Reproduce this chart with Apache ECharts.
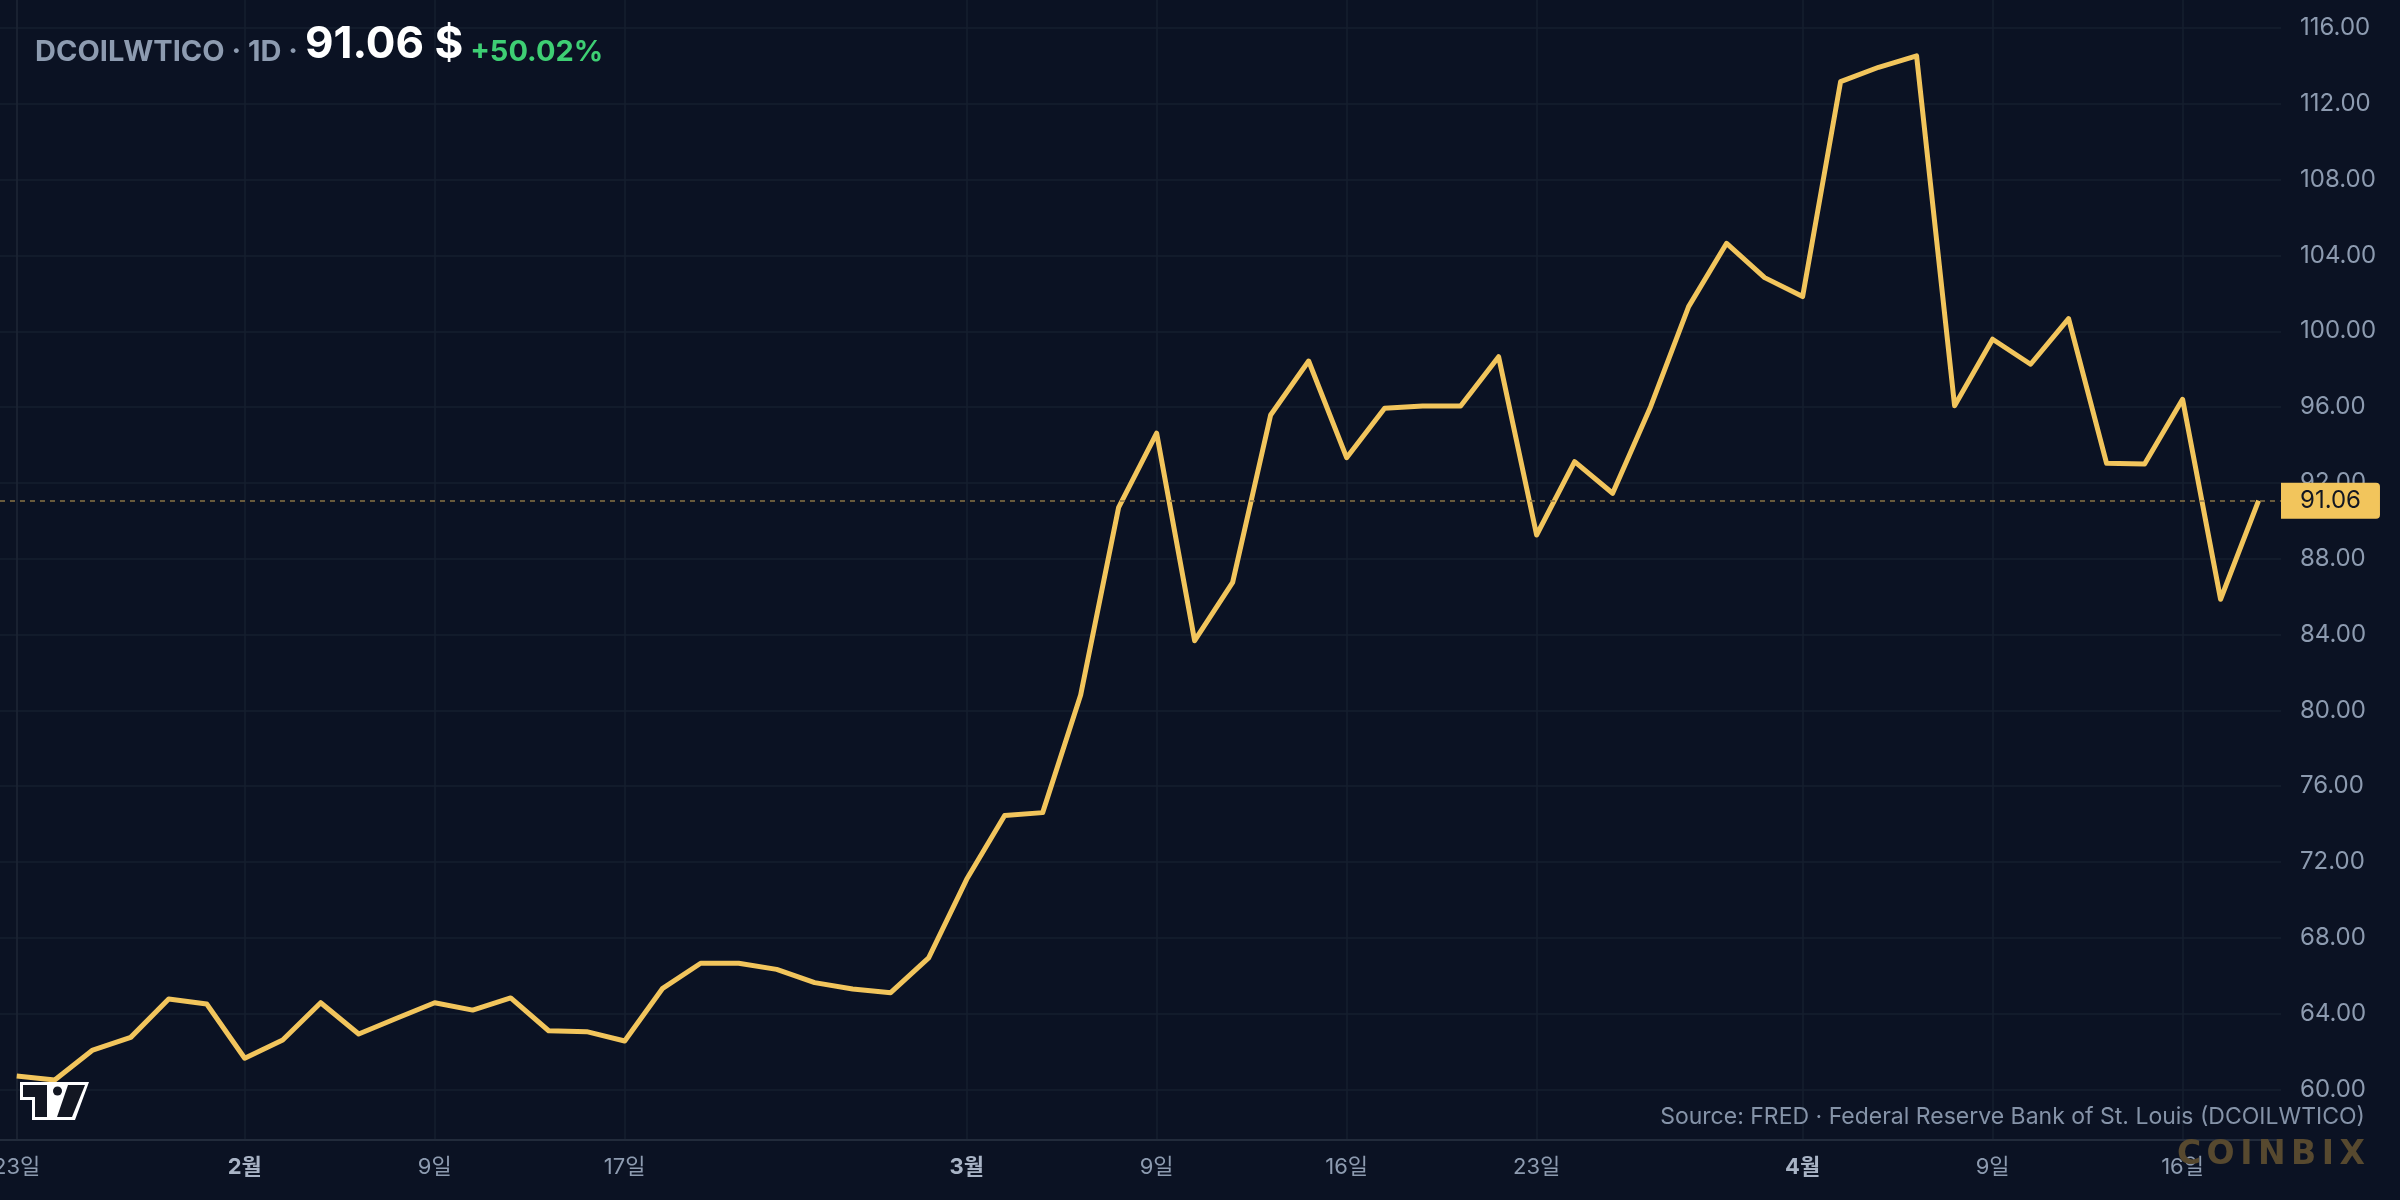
<!DOCTYPE html>
<html>
<head>
<meta charset="utf-8">
<script src="https://cdn.jsdelivr.net/npm/echarts@6/dist/echarts.min.js"></script>
<style>
  html, body { margin: 0; padding: 0; background: #0b1223; }
  #chart { width: 2400px; height: 1200px; }
</style>
</head>
<body>
<div id="chart"></div>
<script>
const dates = [
  '2026-01-23', '2026-01-26', '2026-01-27', '2026-01-28', '2026-01-29', '2026-01-30',
  '2026-02-02', '2026-02-03', '2026-02-04', '2026-02-05', '2026-02-06',
  '2026-02-09', '2026-02-10', '2026-02-11', '2026-02-12', '2026-02-13',
  '2026-02-17', '2026-02-18', '2026-02-19', '2026-02-20',
  '2026-02-23', '2026-02-24', '2026-02-25', '2026-02-26', '2026-02-27',
  '2026-03-02', '2026-03-03', '2026-03-04', '2026-03-05', '2026-03-06',
  '2026-03-09', '2026-03-10', '2026-03-11', '2026-03-12', '2026-03-13',
  '2026-03-16', '2026-03-17', '2026-03-18', '2026-03-19', '2026-03-20',
  '2026-03-23', '2026-03-24', '2026-03-25', '2026-03-26', '2026-03-27',
  '2026-03-30', '2026-03-31', '2026-04-01', '2026-04-02',
  '2026-04-06', '2026-04-07', '2026-04-08', '2026-04-09', '2026-04-10',
  '2026-04-13', '2026-04-14', '2026-04-15', '2026-04-16', '2026-04-17',
  '2026-04-20',
];

const prices = [
  60.70, 60.49, 62.07, 62.74, 64.77, 64.50,
  61.64, 62.60, 64.57, 62.92, 63.75,
  64.57, 64.18, 64.82, 63.09, 63.04,
  62.55, 65.33, 66.65, 66.65,
  66.33, 65.63, 65.29, 65.10, 66.94,
  71.08, 74.45, 74.60, 80.81, 90.71,
  94.62, 83.67, 86.75, 95.58, 98.43,
  93.33, 95.94, 96.06, 96.06, 98.66,
  89.25, 93.12, 91.45, 96.02, 101.30,
  104.64, 102.83, 101.83, 113.17,
  113.93, 114.53, 96.07, 99.58, 98.26,
  100.67, 93.03, 93.00, 96.41, 85.86,
  91.06,
];

const tickDates = [
  '2026-01-23', '2026-02-02', '2026-02-09', '2026-02-17', '2026-03-02', '2026-03-09',
  '2026-03-16', '2026-03-23', '2026-04-01', '2026-04-09', '2026-04-16',
];
const tickLabels = ['23일', '2월', '9일', '17일', '3월', '9일', '16일', '23일', '4월', '9일', '16일'];

const priceTicks = [60, 64, 68, 72, 76, 80, 84, 88, 92, 96, 100, 104, 108, 112, 116];

const FONT = 'Inter, "Noto Sans CJK KR", "Noto Sans", sans-serif';
const tickIdx = tickDates.map((d) => dates.indexOf(d));
const lastPrice = prices[prices.length - 1];

const chart = echarts.init(document.getElementById('chart'));

const option = {
  backgroundColor: '#0b1223',
  animation: false,
  title: {
    left: 30,
    top: 12,
    text: '{a|DCOILWTICO · 1D · }{b|91.06 $}{c| +50.02%}',
    textStyle: {
      rich: {
        a: { fontFamily: FONT, fontSize: 29, color: '#8d9bb0', verticalAlign: 'bottom', lineHeight: 50 },
        b: { fontFamily: FONT, fontSize: 44, fontWeight: 'bold', color: '#ffffff', verticalAlign: 'bottom', lineHeight: 50 },
        c: { fontFamily: FONT, fontSize: 29, color: '#3ecf74', verticalAlign: 'bottom', lineHeight: 50 },
      },
    },
  },
  grid: { left: 0, right: 119, top: 0, bottom: 60, outerBoundsMode: 'none', containLabel: false },
  xAxis: {
    type: 'value',
    min: -0.44,
    max: 59.59,
    axisLine: { show: true, lineStyle: { color: '#222b3b', width: 2 } },
    axisTick: { show: false, customValues: tickIdx },
    splitLine: { show: true, lineStyle: { color: '#161f2f', width: 1.5 } },
    axisLabel: {
      customValues: tickIdx,
      margin: 16,
      formatter: (val) => {
        const t = tickLabels[tickIdx.indexOf(Math.round(val))] || '';
        return t.endsWith('월') ? '{m|' + t + '}' : '{d|' + t + '}';
      },
      rich: {
        d: { fontFamily: FONT, fontSize: 22, color: '#8d9bb0' },
        m: { fontFamily: FONT, fontSize: 22, fontWeight: 'bold', color: '#a9b4c6' },
      },
    },
  },
  yAxis: {
    type: 'value',
    position: 'right',
    min: 57.325,
    max: 117.48,
    axisLine: { show: true, lineStyle: { color: '#1c2535', width: 1.5 } },
    axisTick: { show: false, customValues: priceTicks },
    splitLine: { show: true, lineStyle: { color: '#161f2f', width: 1.5 } },
    axisLabel: {
      customValues: priceTicks,
      margin: 19,
      fontFamily: FONT,
      fontSize: 24,
      color: '#8d9bb0',
      formatter: (v) => v.toFixed(2),
    },
  },
  series: [
    {
      type: 'line',
      data: prices.map((p, i) => [i, p]),
      showSymbol: false,
      lineStyle: { color: '#f2c55c', width: 5, join: 'round' },
      z: 3,
      markLine: {
        silent: true,
        symbol: ['none', 'none'],
        lineStyle: { color: '#8a7447', type: [5, 5], width: 1.5 },
        label: {
          position: 'end',
          distance: 0,
          formatter: (p) => p.value.toFixed(2),
          backgroundColor: '#f2c55c',
          color: '#131722',
          fontFamily: FONT,
          fontSize: 24,
          padding: [6, 19, 6, 19],
          borderRadius: [0, 4, 4, 0],
        },
        data: [{ yAxis: lastPrice }],
        z: 10,
      },
    },
  ],
  graphic: [
    {
      type: 'polygon',
      z: 100,
      shape: { points: [[20, 1082], [89, 1082], [75, 1120], [32, 1120], [32, 1100], [20, 1100]] },
      style: { fill: '#ffffff' },
    },
    {
      type: 'polygon',
      z: 101,
      shape: { points: [[23, 1085], [47, 1085], [47, 1117], [35, 1117], [35, 1097], [23, 1097]] },
      style: { fill: '#131722' },
    },
    {
      type: 'circle',
      z: 101,
      shape: { cx: 57.5, cy: 1091, r: 4.5 },
      style: { fill: '#131722' },
    },
    {
      type: 'polygon',
      z: 101,
      shape: { points: [[68, 1085], [85, 1085], [72, 1117], [57, 1117]] },
      style: { fill: '#131722' },
    },
    {
      type: 'text',
      z: 100,
      right: 35,
      top: 1106,
      style: {
        text: 'Source: FRED · Federal Reserve Bank of St. Louis (DCOILWTICO)',
        fontFamily: FONT,
        fontSize: 23,
        fill: '#8593a8',
      },
    },
    {
      type: 'text',
      z: 100,
      right: 35,
      top: 1139,
      style: {
        text: 'C\u2006O\u2006I\u2006N\u2006B\u2006I\u2006X',
        fontFamily: '"DejaVu Sans", sans-serif',
        fontWeight: 'bold',
        fontSize: 33,
        fill: '#57492f',
      },
    },
  ],
};

chart.setOption(option);
</script>
</body>
</html>
